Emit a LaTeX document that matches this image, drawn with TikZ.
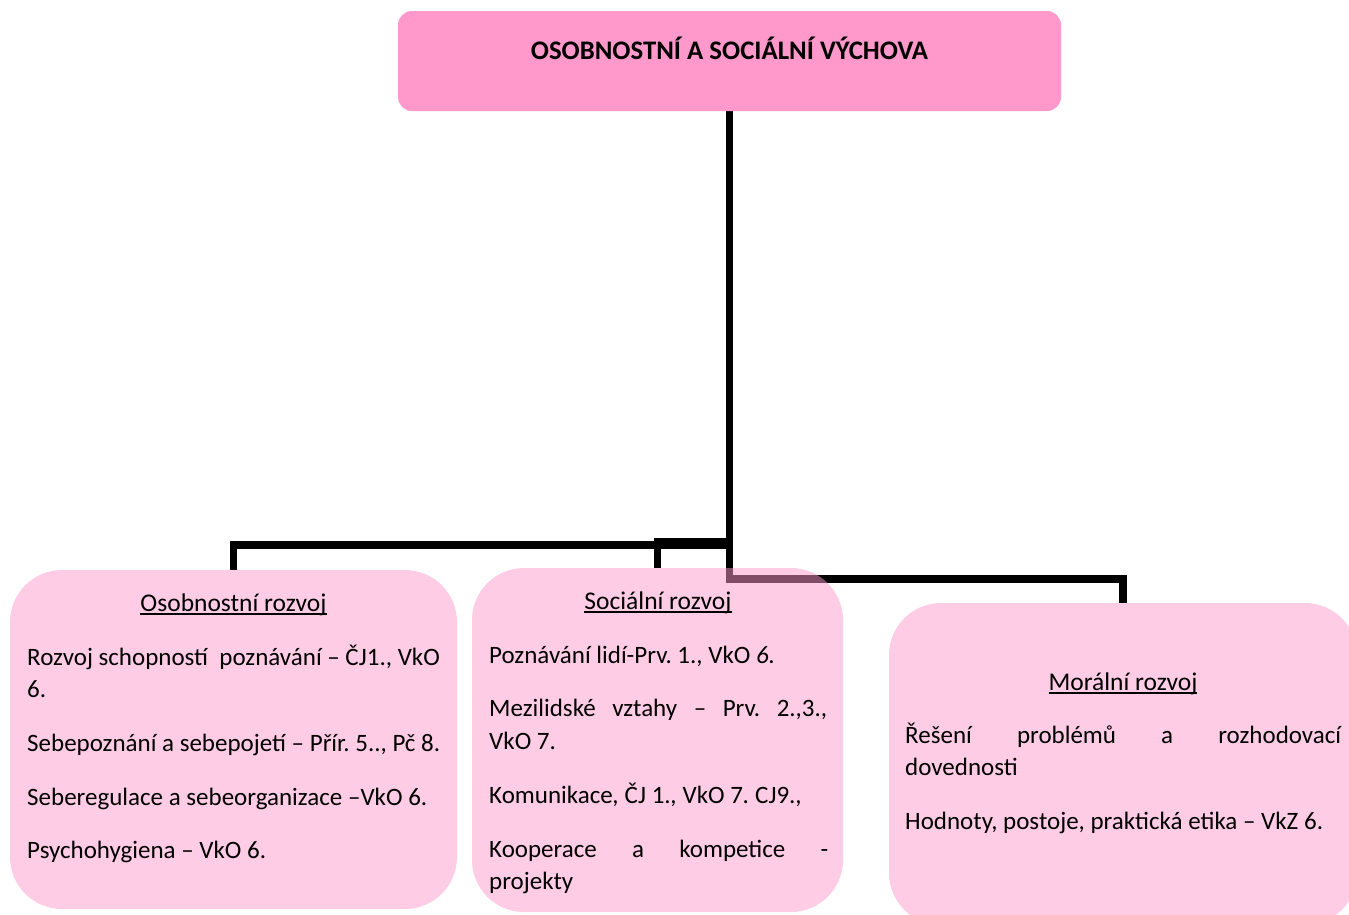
\documentclass[tikz,border=0pt]{standalone}
\usepackage{fontspec}
\setmainfont{Carlito}
\usetikzlibrary{backgrounds}
\definecolor{toppink}{HTML}{FF99CC}
\newcommand\myul[1]{\setbox0\hbox{#1}\rlap{\vrule height -2.2pt depth 3.6pt width \wd0}\box0}
\frenchspacing
\begin{document}
\begin{tikzpicture}[x=1pt,y=-1pt,
  topbox/.style={fill=toppink, draw=none, rounded corners=14pt, inner sep=0pt},
  subbox/.style={fill=toppink, fill opacity=0.5, draw=none, rounded corners=52pt, inner sep=0pt},
  conn/.style={line width=7.5pt, draw=black},
  txt/.style={anchor=base west, inner sep=0pt, font=\fontsize{25}{32}\selectfont},
  head/.style={anchor=base, inner sep=0pt, font=\fontsize{25.5}{32}\selectfont},
  title/.style={anchor=base, inner sep=0pt, font=\fontsize{26.8}{32}\selectfont\bfseries}]
\useasboundingbox (0,0) rectangle (1349,914);
\clip (0,0) rectangle (1349,914);
% boxes
\node[topbox, minimum width=663pt, minimum height=100pt] (top) at (729.5,61) {};
\node[subbox, minimum width=447pt, minimum height=339pt] (osb) at (233.5,739.5) {};
\node[subbox, minimum width=371pt, minimum height=344pt] (soc) at (657.5,740) {};
\node[subbox, minimum width=468pt, minimum height=322pt] (mor) at (1123,764) {};
% connectors
\coordinate (jl) at (729.5,545);
\coordinate (jm) at (729.5,542);
\coordinate (jr) at (729.5,579);
\begin{pgfonlayer}{background}
\draw[conn] (top.south) -- (jr) -| (mor.north);
\draw[conn] (jl) -| (osb.north);
\draw[conn] (jm) -| (soc.north);
\end{pgfonlayer}
% title
\node[title] (t) at (729.5,59) {OSOBNOSTNÍ A SOCIÁLNÍ VÝCHOVA};
% left box
\node[head] (h1) at (233.5,611) {\myul{Osobnostní rozvoj}};
\node[txt] (l1) at (27,665) {Rozvoj schopností\ \ poznávání – ČJ1., VkO};
\node[txt] (l2) at (27,697) {6.};
\node[txt] (l3) at (27,751) {Sebepoznání a sebepojetí – Přír. 5.., Pč 8.};
\node[txt] (l4) at (27,805) {Seberegulace a sebeorganizace –VkO 6.};
\node[txt] (l5) at (27,858) {Psychohygiena – VkO 6.};
% middle box
\node[head] (h2) at (658,609) {\myul{Sociální rozvoj}};
\node[txt] (m1) at (489,663) {Poznávání lidí-Prv. 1., VkO \textit{6.}};
\node[txt] (m2) at (489,716) {\makebox[338pt][s]{Mezilidské vztahy – Prv. 2.,3.,}};
\node[txt] (m3) at (489,749) {VkO 7.};
\node[txt] (m4) at (489,803) {Komunikace\textit{,} ČJ 1.\textit{,} VkO 7\textit{.} CJ9.,};
\node[txt] (m5) at (489,857) {\makebox[339pt][s]{Kooperace a kompetice -}};
\node[txt] (m6) at (489,889) {projekty};
% right box
\node[head] (h3) at (1123,690) {\myul{Morální rozvoj}};
\node[txt] (r1) at (905,743) {\makebox[436pt][s]{Řešení problémů a rozhodovací}};
\node[txt] (r2) at (905,775) {dovednosti};
\node[txt] (r3) at (905,829) {Hodnoty, postoje, praktická etika – VkZ 6.};
\end{tikzpicture}
\end{document}
